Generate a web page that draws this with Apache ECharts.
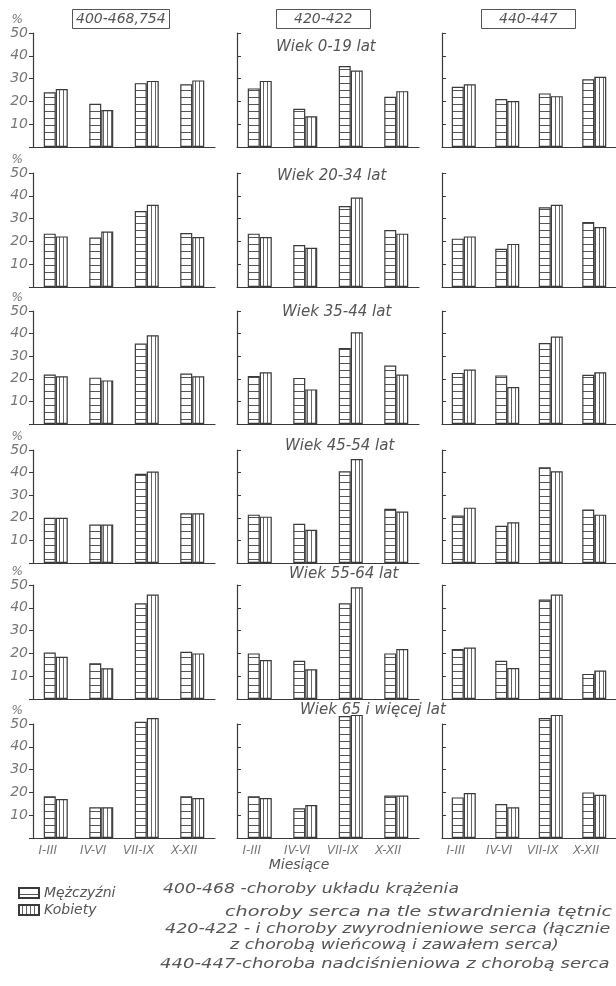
<!DOCTYPE html>
<html>
<head>
<meta charset="utf-8">
<script src="https://cdn.jsdelivr.net/npm/echarts@6/dist/echarts.min.js"></script>
<style>
html,body{margin:0;padding:0;background:#fff;}
#chart{width:616px;height:986px;}
</style>
</head>
<body>
<div id="chart"></div>
<script>
// ---------- DATA ----------
const quarters = ['I-III', 'IV-VI', 'VII-IX', 'X-XII'];
const ageGroups = ['Wiek 0-19 lat', 'Wiek 20-34 lat', 'Wiek 35-44 lat', 'Wiek 45-54 lat', 'Wiek 55-64 lat', 'Wiek 65 i więcej lat'];
const diseaseCodes = ['400-468,754', '420-422', '440-447'];
const yTicks = [0, 10, 20, 30, 40, 50];

// rows = age groups, columns = quarters
const men400 = [
  [24, 19, 28, 27.5],
  [23.4, 21.7, 33.3, 23.7],
  [21.9, 20.5, 35.6, 22.3],
  [20, 17, 39.5, 22],
  [20.4, 15.7, 42, 20.7],
  [18.3, 13.5, 51, 18.3]
];
const women400 = [
  [25.4, 16.2, 29, 29.2],
  [22.2, 24.3, 36.1, 21.9],
  [21.1, 19.3, 39.3, 21.1],
  [20, 17, 40.5, 22],
  [18.5, 13.5, 45.8, 20],
  [17.1, 13.5, 52.6, 17.5]
];
const men420 = [
  [25.7, 16.8, 35.5, 22],
  [23.4, 18.4, 35.5, 25],
  [21.2, 20.4, 33.6, 25.9],
  [21.4, 17.4, 40.6, 24],
  [20, 16.8, 42, 20],
  [18.3, 13, 53.5, 18.6]
];
const women420 = [
  [29, 13.5, 33.5, 24.5],
  [21.9, 17.2, 39.2, 23.4],
  [22.9, 15.3, 40.6, 21.9],
  [20.5, 14.7, 46, 22.8],
  [17.1, 13, 49, 21.9],
  [17.5, 14.5, 54, 18.6]
];
const men440 = [
  [26.4, 21, 23.5, 29.7],
  [21.2, 16.8, 35, 28.5],
  [22.6, 21.5, 35.8, 21.8],
  [21, 16.5, 42.4, 23.7],
  [21.9, 16.8, 43.6, 11],
  [17.8, 14.9, 52.6, 20]
];
const women440 = [
  [27.5, 20.2, 22.3, 30.8],
  [22.2, 18.9, 36.1, 26.3],
  [24.1, 16.4, 38.7, 22.9],
  [24.5, 18, 40.6, 21.4],
  [22.6, 13.6, 45.8, 12.5],
  [19.7, 13.5, 54, 19]
];
const legendNames = ['Mężczyźni', 'Kobiety'];
const notes = [
  '400-468 -choroby układu krążenia',
  'choroby serca na tle stwardnienia tętnic',
  '420-422 - i choroby zwyrodnieniowe serca (łącznie',
  'z chorobą wieńcową i zawałem serca)',
  '440-447-choroba nadciśnieniowa z chorobą serca'
];
const xAxisTitle = 'Miesiące';

// ---------- STYLE / LAYOUT ----------
const FONT = 'DejaVu Sans';
const TXT = '#555';
const LINE = '#3a3a3a';
const colLeft = [33, 237, 442];
const rowTop = [33, 173, 311, 450, 585, 724];
const rowBase = [147, 287, 424, 563, 699, 838];
const gridWidth = 182;

function makePattern(horizontal) {
  const c = document.createElement('canvas');
  const ctx = c.getContext('2d');
  if (horizontal) {
    c.width = 8; c.height = 7;
    ctx.fillStyle = '#fff'; ctx.fillRect(0, 0, 8, 7);
    ctx.fillStyle = '#555'; ctx.fillRect(0, 6, 8, 1);
  } else {
    c.width = 4; c.height = 8;
    ctx.fillStyle = '#fff'; ctx.fillRect(0, 0, 4, 8);
    ctx.fillStyle = '#666'; ctx.fillRect(3, 0, 1, 8);
  }
  return c;
}
const menFill = { image: makePattern(true), repeat: 'repeat' };
const womenFill = { image: makePattern(false), repeat: 'repeat' };

const menData = [men400, men420, men440];
const womenData = [women400, women420, women440];

const grids = [], xAxes = [], yAxes = [], series = [];
let idx = 0;
for (let r = 0; r < 6; r++) {
  for (let c = 0; c < 3; c++) {
    grids.push({ left: colLeft[c], top: rowTop[r], width: gridWidth, height: rowBase[r] - rowTop[r] });
    xAxes.push({
      gridIndex: idx, type: 'category', data: quarters,
      axisLine: { lineStyle: { color: LINE, width: 1.2 } },
      axisTick: { show: false },
      axisLabel: { show: r === 5, color: '#777', fontStyle: 'italic', fontFamily: FONT, fontSize: 12, margin: 7,
        padding: [0, 16, 0, 0] }
    });
    yAxes.push({
      gridIndex: idx, type: 'value', min: 0, max: 50, interval: 10,
      name: c === 0 ? '%' : '', nameLocation: 'end', nameGap: 5,
      nameTextStyle: { color: '#777', fontStyle: 'italic', fontFamily: FONT, fontSize: 12, align: 'right', padding: [0, 10, 0, 0] },
      axisLine: { show: true, lineStyle: { color: LINE, width: 1.2 } },
      axisTick: { show: true, length: 4, inside: c !== 0, lineStyle: { color: LINE } },
      axisLabel: { show: c === 0, color: '#777', fontStyle: 'italic', fontFamily: FONT, fontSize: 14, margin: 5,
        formatter: v => v === 0 ? '' : String(v) },
      splitLine: { show: false }
    });
    series.push({
      type: 'bar', name: legendNames[0], xAxisIndex: idx, yAxisIndex: idx,
      data: menData[c][r], barWidth: 12, barGap: '0%', clip: false, silent: true,
      itemStyle: { color: menFill, borderColor: LINE, borderWidth: 1.2 }
    });
    series.push({
      type: 'bar', name: legendNames[1], xAxisIndex: idx, yAxisIndex: idx,
      data: womenData[c][r], barWidth: 12, barGap: '0%', clip: false, silent: true,
      itemStyle: { color: womenFill, borderColor: LINE, borderWidth: 1.2 }
    });
    idx++;
  }
}

const titleStyle = { color: TXT, fontStyle: 'italic', fontWeight: 'normal', fontFamily: FONT };
const titles = [];
// header boxes
const boxLeft = [72, 276, 481];
const boxPad = [[3, 4], [3, 18], [3, 18]];
diseaseCodes.forEach((t, i) => titles.push({
  text: t, left: boxLeft[i], top: 9, padding: boxPad[i], borderColor: '#555', borderWidth: 1,
  textStyle: Object.assign({}, titleStyle, { fontSize: 14 })
}));
// age labels
const ageLeft = [276, 277, 282, 285, 289, 300];
const ageTop = [40, 169, 305, 439, 567, 703];
ageGroups.forEach((t, i) => titles.push({
  text: t, left: ageLeft[i], top: ageTop[i], padding: 0,
  textStyle: Object.assign({}, titleStyle, { fontSize: 15 })
}));
// x axis title
titles.push({ text: xAxisTitle, left: 299, textAlign: 'center', top: 858, padding: 0,
  textStyle: Object.assign({}, titleStyle, { fontSize: 14 }) });

// notes (graphic text, horizontally stretched like the hand lettering)
const noteX = [163, 225, 165, 230, 160];
const noteY = [889, 912, 929, 945, 964];
const noteScale = [1.23, 1.37, 1.25, 1.24, 1.29];
const graphics = notes.map((t, i) => ({
  type: 'text', x: noteX[i], y: noteY[i], scaleX: noteScale[i], originX: 0, originY: 0, silent: true,
  style: { text: t, fill: TXT, fontSize: 14, fontFamily: FONT, fontStyle: 'italic', verticalAlign: 'middle', align: 'left' }
}));

const chart = echarts.init(document.getElementById('chart'), null, { renderer: 'canvas' });
chart.setOption({
  animation: false,
  backgroundColor: '#fff',
  title: titles,
  graphic: graphics,
  legend: {
    data: legendNames, orient: 'vertical', left: 18, top: 886, padding: 0,
    icon: 'rect', itemWidth: 20, itemHeight: 10, itemGap: 3,
    textStyle: { color: TXT, fontStyle: 'italic', fontFamily: FONT, fontSize: 14 }
  },
  grid: grids, xAxis: xAxes, yAxis: yAxes, series: series
});
</script>
</body>
</html>
